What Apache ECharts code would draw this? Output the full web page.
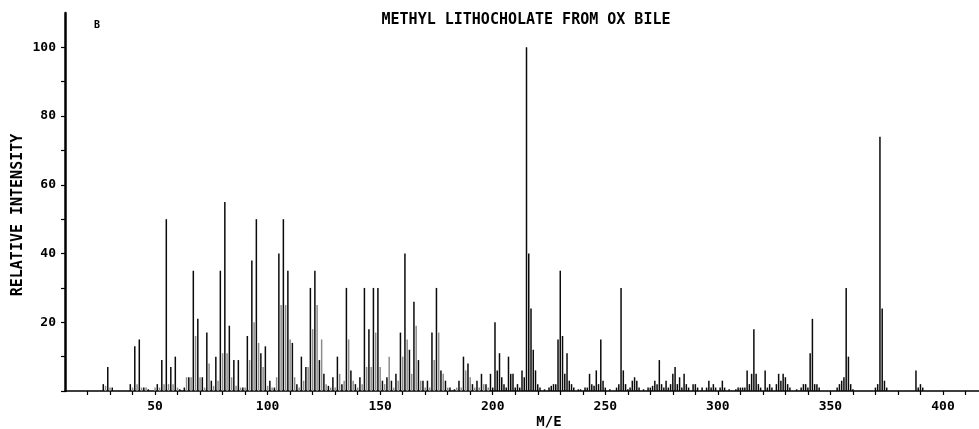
<!DOCTYPE html>
<html>
<head>
<meta charset="utf-8">
<script src="https://cdn.jsdelivr.net/npm/echarts@6/dist/echarts.min.js"></script>
<style>
  html, body { margin: 0; padding: 0; background: #ffffff; }
  #chart { width: 979px; height: 429px; }
</style>
</head>
<body>
<div id="chart"></div>
<script>
// Mass spectrum of methyl lithocholate (ox bile): m/e and relative intensity (%)
const massToCharge = [
  27, 28, 29, 30, 31, 39, 40, 41, 42, 43, 44, 45, 46, 47,
  50, 51, 52, 53, 54, 55, 56, 57, 58, 59, 60, 61, 63, 64, 65, 66, 67, 68, 69,
  70, 71, 72, 73, 74, 75, 76, 77, 78, 79, 80, 81, 82, 83, 84, 85, 86, 87, 88, 89,
  90, 91, 92, 93, 94, 95, 96, 97, 98, 99, 100, 101, 102, 103, 104, 105, 106, 107,
  108, 109, 110, 111, 112, 113, 114, 115, 116, 117, 118, 119, 120, 121, 122, 123,
  124, 125, 126, 127, 128, 129, 130, 131, 132, 133, 134, 135, 136, 137, 138, 139,
  140, 141, 142, 143, 144, 145, 146, 147, 148, 149, 150, 151, 152, 153, 154, 155,
  156, 157, 158, 159, 160, 161, 162, 163, 164, 165, 166, 167, 168, 169, 170, 171,
  172, 173, 174, 175, 176, 177, 178, 179, 180, 181, 183, 184, 185, 186, 187, 188,
  189, 190, 191, 192, 193, 194, 195, 196, 197, 198, 199, 200, 201, 202, 203, 204,
  205, 206, 207, 208, 209, 210, 211, 212, 213, 214, 215, 216, 217, 218, 219, 220,
  221, 223, 225, 226, 227, 228, 229, 230, 231, 232, 233, 234, 235, 236, 238, 239,
  241, 242, 243, 244, 245, 246, 247, 248, 249, 250, 252, 255, 256, 257, 258, 259,
  260, 261, 262, 263, 264, 265, 267, 269, 270, 271, 272, 273, 274, 275, 276, 277,
  278, 279, 280, 281, 282, 283, 284, 285, 286, 287, 289, 290, 291, 293, 295, 296,
  297, 298, 299, 301, 302, 303, 305, 308, 309, 310, 311, 312, 313, 314, 315, 316,
  317, 318, 319, 321, 322, 323, 324, 326, 327, 328, 329, 330, 331, 332, 335, 337,
  338, 339, 340, 341, 342, 343, 344, 345, 353, 354, 355, 356, 357, 358, 359, 360,
  370, 371, 372, 373, 374, 375, 388, 389, 390, 391
];

const relativeIntensity = [
  2, 1.5, 7, 1, 1, 2, 1, 13, 2, 15, 1, 1, 1, 0.5,
  1, 2, 1, 9, 2, 50, 2, 7, 2, 10, 1, 0.5, 1, 4, 4, 4, 35, 16, 21,
  4, 4, 1, 17, 8, 3, 1.5, 10, 3, 35, 11, 55, 11, 19, 4, 9, 1.5, 9, 1, 1,
  1, 16, 9, 38, 20, 50, 14, 11, 7, 13, 1.5, 3, 1, 1, 4, 40, 25, 50,
  25, 35, 15, 14, 4, 2, 1, 10, 3, 7, 7, 30, 18, 35, 25, 9,
  15, 5, 2, 1.5, 1, 4, 1, 10, 5, 2, 3, 30, 15, 6, 3, 2,
  1, 4, 2, 30, 7, 18, 7, 30, 17, 30, 7, 3, 2, 4, 10, 3,
  1, 5, 3, 17, 10, 40, 15, 12, 5, 26, 19, 9, 3, 3, 1, 3,
  1, 17, 9, 30, 17, 6, 5, 3, 1, 1, 0.5, 1, 3, 1, 10, 6,
  8, 4, 2, 1, 3, 1, 5, 2, 2, 1, 5, 1, 20, 6, 11, 4,
  2, 1, 10, 5, 5, 1, 2, 1, 6, 4, 100, 40, 24, 12, 6, 2,
  1, 0.5, 1, 1.5, 2, 2, 15, 35, 16, 5, 11, 3, 2, 1, 0.5, 0.5,
  1, 1, 5, 2, 1.5, 6, 2, 15, 3, 1, 0.5, 1, 2, 30, 6, 2,
  0.5, 1, 3, 4, 3, 1, 0.5, 1, 1, 1.5, 3, 2, 9, 2, 1, 3,
  1, 2, 5, 7, 2, 4, 1, 5, 2, 1, 2, 2, 1, 1, 1, 3,
  1, 2, 1, 1, 3, 1, 0.5, 0.5, 1, 1, 1, 1, 6, 2, 5, 18,
  5, 2, 1, 6, 1, 2, 1, 2, 5, 3, 5, 4, 2, 1, 0.5, 1,
  2, 2, 1, 11, 21, 2, 2, 1, 1, 2, 3, 4, 30, 10, 2, 0.5,
  1, 2, 74, 24, 3, 1, 6, 1, 2, 1
];

// Axis tick and label positions
const xTickValues = [20, 30, 40, 50, 60, 70, 80, 90, 100, 110, 120, 130, 140, 150, 160,
  170, 180, 190, 200, 210, 220, 230, 240, 250, 260, 270, 280, 290, 300, 310, 320,
  330, 340, 350, 360, 370, 380, 390, 400, 410];
const xLabelValues = [50, 100, 150, 200, 250, 300, 350, 400];
const yTickValues = [0, 10, 20, 30, 40, 50, 60, 70, 80, 90, 100];
const yLabelValues = [20, 40, 60, 80, 100];

const chartTitle = 'METHYL LITHOCHOLATE FROM OX BILE';
const panelLetter = 'B';
const xAxisTitle = 'M/E';
const yAxisTitle = 'RELATIVE INTENSITY';

const MONO = "'DejaVu Sans Mono', 'Liberation Mono', monospace";

const peaks = massToCharge.map((m, i) => [m, relativeIntensity[i]]);

const chart = echarts.init(document.getElementById('chart'), null, { renderer: 'canvas' });

chart.setOption({
  backgroundColor: '#ffffff',
  animation: false,
  grid: { left: 65, right: 0, top: 13, bottom: 38, containLabel: false },
  xAxis: {
    type: 'value',
    min: 10,
    max: 416,
    interval: 10,
    splitLine: { show: false },
    axisLine: { show: true, onZero: false, lineStyle: { color: '#000', width: 1.6 } },
    axisTick: {
      show: true, inside: false, length: 4,
      customValues: xTickValues,
      lineStyle: { color: '#000', width: 1.2 }
    },
    axisLabel: {
      show: true, margin: 9,
      customValues: xLabelValues,
      color: '#000', fontFamily: MONO, fontSize: 13, fontWeight: 'bold',
      formatter: v => (xLabelValues.indexOf(v) >= 0 ? String(v) : '')
    }
  },
  yAxis: {
    type: 'value',
    min: 0,
    max: 110,
    interval: 10,
    splitLine: { show: false },
    axisLine: { show: true, lineStyle: { color: '#000', width: 2.5 } },
    axisTick: {
      show: true, inside: false, length: 4,
      customValues: yTickValues,
      lineStyle: { color: '#000', width: 1.2 }
    },
    axisLabel: {
      show: true, margin: 9,
      customValues: yLabelValues,
      color: '#000', fontFamily: MONO, fontSize: 13, fontWeight: 'bold',
      formatter: v => (yLabelValues.indexOf(v) >= 0 ? String(v) : '')
    }
  },
  series: [{
    type: 'bar',
    data: peaks,
    barWidth: 1.5,
    itemStyle: {
      // even-mass ions below m/e 200 print as light stippled lines
      color: p => (p.value[0] < 200 && p.value[0] % 2 === 0) ? '#8c8c8c' : '#0a0a0a'
    }
  }],
  graphic: [
    {
      type: 'text', x: 526, y: 20,
      style: { text: chartTitle, fill: '#000', font: 'bold 15px ' + MONO, textAlign: 'center', textVerticalAlign: 'middle' }
    },
    {
      type: 'text', x: 97, y: 25,
      style: { text: panelLetter, fill: '#000', font: 'bold 10px ' + MONO, textAlign: 'center', textVerticalAlign: 'middle' }
    },
    {
      type: 'text', x: 549, y: 422,
      style: { text: xAxisTitle, fill: '#000', font: 'bold 14px ' + MONO, textAlign: 'center', textVerticalAlign: 'middle' }
    },
    {
      type: 'text', x: 18, y: 215, rotation: Math.PI / 2,
      style: { text: yAxisTitle, fill: '#000', font: 'bold 15px ' + MONO, textAlign: 'center', textVerticalAlign: 'middle' }
    }
  ]
});
</script>
</body>
</html>
